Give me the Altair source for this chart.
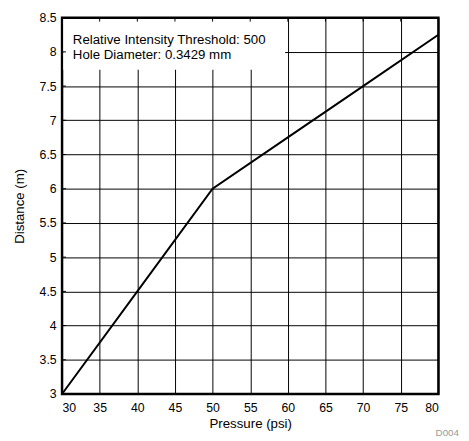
import altair as alt
import pandas as pd

# ---- data ----
pressure = [30, 40, 50, 60, 70, 80]
distance = [3.0, 4.5, 6.0, 6.75, 7.5, 8.25]
x_ticks = [30, 35, 40, 45, 50, 55, 60, 65, 70, 75, 80]
y_ticks = [3, 3.5, 4, 4.5, 5, 5.5, 6, 6.5, 7, 7.5, 8, 8.5]
note_line1 = "Relative Intensity Threshold: 500"
note_line2 = "Hole Diameter: 0.3429 mm"
credit = "D004"

FONT = "Liberation Sans"
W, H = 383, 383

xs = alt.Scale(domain=[30, 80], nice=False, zero=False)
ys = alt.Scale(domain=[3, 8.5], nice=False, zero=False)

line_df = pd.DataFrame({"p": pressure, "d": distance})
xt_df = pd.DataFrame({"t": x_ticks})
yt_df = pd.DataFrame({"t": y_ticks})
one = pd.DataFrame({"a": [0]})

x_axis = alt.Axis(values=x_ticks, title="Pressure (psi)", grid=True, ticks=False,
                  domain=False, labelPadding=8, titleY=30, titleBaseline="middle")
y_axis = alt.Axis(values=y_ticks, title="Distance (m)", grid=True, ticks=False,
                  domain=False, labelPadding=6, format="~g",
                  titleX=-43, titleY=H / 2, titleBaseline="middle", titleAlign="center")

box = alt.Chart(one).mark_rect(fill="white", stroke=None).encode(
    x=alt.value(1.3), x2=alt.value(227), y=alt.value(1.3), y2=alt.value(53)
)

top_ticks = alt.Chart(xt_df).mark_rule(color="black", strokeWidth=1).encode(
    x=alt.X("t:Q", scale=xs, axis=x_axis), y=alt.value(0), y2=alt.value(4)
)
left_ticks = alt.Chart(yt_df).mark_rule(color="black", strokeWidth=1).encode(
    y=alt.Y("t:Q", scale=ys, axis=y_axis), x=alt.value(0), x2=alt.value(4)
)

txt1 = alt.Chart(one).mark_text(align="left", baseline="alphabetic", font=FONT,
                                fontSize=13.5, color="black").encode(
    x=alt.value(11), y=alt.value(26.7), text=alt.value(note_line1)
)
txt2 = alt.Chart(one).mark_text(align="left", baseline="alphabetic", font=FONT,
                                fontSize=13.5, color="black").encode(
    x=alt.value(11), y=alt.value(41.7), text=alt.value(note_line2)
)

line = alt.Chart(line_df).mark_line(color="black", strokeWidth=2).encode(
    x=alt.X("p:Q", scale=xs, axis=x_axis),
    y=alt.Y("d:Q", scale=ys, axis=y_axis),
)

cred = alt.Chart(one).mark_text(align="right", baseline="middle", font=FONT,
                                fontSize=10, color="#999999").encode(
    x=alt.value(404), y=alt.value(423), text=alt.value(credit)
)

chart = alt.layer(box, top_ticks, left_ticks, txt1, txt2, line, cred).properties(
    width=W, height=H,
    autosize=alt.AutoSizeParams(type="none"),
    padding={"left": 55, "top": 6, "right": 23, "bottom": 44},
).configure_view(
    stroke="black", strokeWidth=2.5
).configure_axis(
    gridColor="black", gridOpacity=1, gridWidth=1,
    labelFont=FONT, labelFontSize=12.5, labelColor="black",
    titleFont=FONT, titleFontSize=13.5, titleColor="black", titleFontWeight="normal",
)

chart.save("out.html", embed_options={"renderer": "svg", "actions": False})
